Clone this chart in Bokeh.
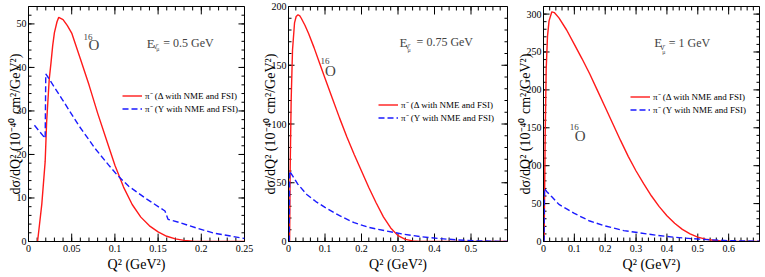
from bokeh.plotting import figure
from bokeh.models import (FixedTicker, PrintfTickFormatter, Legend, LegendItem, Label)
from bokeh.layouts import row
from bokeh.embed import file_html
from bokeh.resources import INLINE
import numpy as np

SERIF = "Liberation Serif"
RED = "#ff1a1a"
BLUE = "#1a1aff"

# ---------------- data ----------------
# Panel 1: E = 0.5 GeV
p1_delta_q2 = [0.0105, 0.0154, 0.0193, 0.021, 0.024, 0.026, 0.028, 0.030, 0.033, 0.0350,
               0.040, 0.045, 0.050, 0.060, 0.070, 0.080, 0.090, 0.100, 0.110, 0.120,
               0.130, 0.140, 0.150, 0.160, 0.170, 0.180, 0.190, 0.200, 0.25]
p1_delta_xs = [0, 8.6, 18.4, 27.5, 37.3, 41, 45, 48, 50.5, 51.5,
               51.0, 49.6, 47.9, 42.0, 36.0, 29.5, 23.5, 17.5, 12.5, 8.5,
               5.6, 3.6, 2.2, 1.2, 0.6, 0.25, 0.08, 0, 0]
p1_y_q2 = [0.0069, 0.0193, 0.0200, 0.024, 0.0386, 0.058, 0.077, 0.0926, 0.103, 0.116,
           0.135, 0.158, 0.1615, 0.174, 0.196, 0.215, 0.25]
p1_y_xs = [26.7, 23.7, 38.5, 37.3, 32.8, 26.7, 21.4, 17.6, 15.2, 12.7,
           10.0, 7.0, 5.1, 4.4, 3.0, 1.9, 0.7]

# Panel 2: E = 0.75 GeV
p2_delta_q2 = [0.003, 0.0046, 0.0073, 0.011, 0.0165, 0.021, 0.026, 0.031, 0.035, 0.045,
               0.055, 0.07, 0.085, 0.10, 0.12, 0.14, 0.16, 0.18, 0.20, 0.22,
               0.24, 0.26, 0.28, 0.30, 0.32, 0.34, 0.36, 0.6]
p2_delta_xs = [0, 63, 120, 163, 186, 191.5, 193, 192, 190, 184,
               177, 165, 152, 139, 122, 105, 89, 74, 60, 46,
               33, 21, 11.5, 5, 1.8, 0.5, 0, 0]
p2_y_q2 = [0.002, 0.003, 0.025, 0.05, 0.075, 0.1, 0.14, 0.18, 0.22, 0.27,
           0.31, 0.36, 0.41, 0.46, 0.51, 0.56, 0.6]
p2_y_xs = [0, 60, 49, 40, 34, 29, 22, 16, 12, 8.8,
           6.5, 4.2, 2.6, 1.4, 0.6, 0.2, 0]

# Panel 3: E = 1 GeV
p3_delta_q2 = [0.002, 0.0055, 0.0087, 0.013, 0.018, 0.027, 0.035, 0.05, 0.075, 0.1,
               0.125, 0.15, 0.175, 0.2, 0.225, 0.25, 0.275, 0.3, 0.325, 0.35,
               0.375, 0.4, 0.425, 0.45, 0.475, 0.5, 0.525, 0.55, 0.575, 0.6,
               0.65, 0.7]
p3_delta_xs = [0, 140, 227, 271, 291, 303, 302, 295, 279, 260,
               241, 221, 199, 177, 155, 133, 112, 93, 76, 60,
               46, 34, 24, 16, 10, 5.8, 3.2, 1.6, 0.8, 0.3,
               0.05, 0]
p3_y_q2 = [0.002, 0.003, 0.01, 0.027, 0.05, 0.075, 0.1, 0.15, 0.2, 0.26,
           0.31, 0.37, 0.42, 0.48, 0.53, 0.6, 0.7]
p3_y_xs = [0, 70, 66, 59, 49, 43, 37, 27, 20.5, 14.4,
           11.5, 8, 5.8, 3.8, 2.5, 1.1, 0.3]

# tick labels
x1_ticks = [0, 0.05, 0.1, 0.15, 0.2, 0.25]
x2_ticks = [0, 0.1, 0.2, 0.3, 0.4, 0.5]
x3_ticks = [0, 0.1, 0.2, 0.3, 0.4, 0.5, 0.6]
y1_ticks = [0, 10, 20, 30, 40, 50]
y2_ticks = [0, 50, 100, 150, 200]
y3_ticks = [0, 50, 100, 150, 200, 250, 300]

energies = ["= 0.5 GeV", "= 0.75 GeV", "= 1 GeV"]
label_delta = "π⁻ (Δ with NME and FSI)"
label_y = "π⁻ (Y with NME and FSI)"
x_title = "Q² (GeV²)"
y_title = "dσ/dQ² (10⁻⁴⁰ cm²/GeV²)"


def minor_list(step, end):
    return list(np.round(np.arange(0, end + 1e-9, step), 6))


def add_frame_ticks(p, xr, yr, xt, xminor, yt, yminor, fw, fh):
    # inward ticks on all four sides; pixel lengths converted to data units
    sx = (xr[1] - xr[0]) / fw
    sy = (yr[1] - yr[0]) / fh
    for ticks, L in ((xt, 8), (xminor, 4)):
        n = len(ticks)
        p.segment(x0=ticks, y0=[yr[0]] * n, x1=ticks, y1=[yr[0] + L * sy] * n,
                  line_color="black", line_width=1)
        p.segment(x0=ticks, y0=[yr[1]] * n, x1=ticks, y1=[yr[1] - L * sy] * n,
                  line_color="black", line_width=1)
    for ticks, L in ((yt, 6), (yminor, 3)):
        n = len(ticks)
        p.segment(x0=[xr[0]] * n, y0=ticks, x1=[xr[0] + L * sx] * n, y1=ticks,
                  line_color="black", line_width=1)
        p.segment(x0=[xr[1]] * n, y0=ticks, x1=[xr[1] - L * sx] * n, y1=ticks,
                  line_color="black", line_width=1)


def make_panel(width, bl, br, bt, xr, yr, xt, yt, xminor, yminor, fw, fh):
    p = figure(width=width, height=277, x_range=xr, y_range=yr,
               output_backend="svg", toolbar_location=None,
               min_border_left=bl, min_border_right=br, min_border_top=bt,
               min_border_bottom=36, background_fill_color="white",
               border_fill_color="white", outline_line_color="black",
               outline_line_width=1)
    p.xgrid.visible = False
    p.ygrid.visible = False
    bottom = p.below[0]
    left = p.left[0]
    bottom.ticker = FixedTicker(ticks=xt, minor_ticks=[])
    left.ticker = FixedTicker(ticks=yt, minor_ticks=[])
    for ax in [bottom, left]:
        ax.major_tick_in = 0
        ax.major_tick_out = 0
        ax.minor_tick_in = 0
        ax.minor_tick_out = 0
        ax.axis_line_color = "black"
        ax.formatter = PrintfTickFormatter(format="%g")
        ax.major_label_text_font = SERIF
        ax.major_label_text_font_size = "10px"
        ax.major_label_text_color = "black"
        ax.axis_label_text_font = SERIF
        ax.axis_label_text_font_style = "normal"
        ax.axis_label_text_color = "black"
    bottom.axis_label = x_title
    bottom.axis_label_text_font_size = "14px"
    bottom.major_label_standoff = 3
    bottom.axis_label_standoff = 2
    left.axis_label = y_title
    left.axis_label_text_font_size = "14px"
    left.major_label_standoff = 2
    left.axis_label_standoff = -9
    add_frame_ticks(p, xr, yr, xt, xminor, yt, yminor, fw, fh)
    return p


def add_curves(p, dq, dy, yq, yy, loc):
    r1 = p.line(dq, dy, line_color=RED, line_width=1.4)
    r2 = p.line(yq, yy, line_color=BLUE, line_width=1.4, line_dash="6 3")
    leg = Legend(items=[LegendItem(label=label_delta, renderers=[r1]),
                        LegendItem(label=label_y, renderers=[r2])],
                 location=loc, border_line_color=None, background_fill_alpha=0,
                 padding=0, margin=0, spacing=0, glyph_width=20, glyph_height=13,
                 label_height=13, label_standoff=3, label_text_font=SERIF,
                 label_text_font_size="9px", label_text_color="black")
    p.add_layout(leg)


def add_texts(p, o16, e):
    (x16, y16), (xo, yo) = o16
    p.add_layout(Label(x=x16, y=y16, text="16", text_font=SERIF, text_font_size="9px",
                       text_baseline="alphabetic"))
    p.add_layout(Label(x=xo, y=yo, text="O", text_font=SERIF, text_font_size="15px",
                       text_baseline="alphabetic"))
    (xe, ye), (xn, yn), (xm, ym), (xr, yr), etext = e
    p.add_layout(Label(x=xe, y=ye, text="E", text_font=SERIF, text_font_size="13px",
                       text_baseline="alphabetic"))
    p.add_layout(Label(x=xn, y=yn, text="ν̄", text_font=SERIF, text_font_size="8px",
                       text_baseline="alphabetic"))
    p.add_layout(Label(x=xm, y=ym, text="μ", text_font=SERIF, text_font_size="6px",
                       text_baseline="alphabetic"))
    p.add_layout(Label(x=xr, y=yr, text=etext, text_font=SERIF, text_font_size="12px",
                       text_baseline="alphabetic"))


p1 = make_panel(255, 28, 11, 3, (0, 0.25), (0, 54), x1_ticks, y1_ticks,
                minor_list(0.01, 0.25), minor_list(2, 54), 215, 238)
add_curves(p1, p1_delta_q2, p1_delta_xs, p1_y_q2, p1_y_xs, (94, 126))
add_texts(p1, ((0.0637, 47.1), (0.0694, 45.2)),
          ((0.137, 45.6), (0.1447, 44.8), (0.148, 44.2), (0.156, 45.6), energies[0]))

p2 = make_panel(257, 33, 5, 6, (0, 0.6), (0, 200), x2_ticks, y2_ticks,
                minor_list(0.02, 0.6), minor_list(10, 200), 218, 235)
add_curves(p2, p2_delta_q2, p2_delta_xs, p2_y_q2, p2_y_xs, (90, 117))
add_texts(p2, ((0.0877, 154), (0.1, 145.5)),
          ((0.304, 169.6), (0.321, 166), (0.326, 163), (0.351, 169.6), energies[1]))

p3 = make_panel(253, 31, 6, 4, (0, 0.7), (0, 310), x3_ticks, y3_ticks,
                minor_list(0.02, 0.7), minor_list(10, 310), 214, 237)
add_curves(p3, p3_delta_q2, p3_delta_xs, p3_y_q2, p3_y_xs, (87, 125))
add_texts(p3, ((0.085, 150.4), (0.101, 138.7)),
          ((0.359, 262), (0.379, 256.4), (0.385, 250.5), (0.406, 262), energies[2]))

layout = row(p1, p2, p3, spacing=0)
open("out.html", "w").write(file_html(layout, INLINE))
